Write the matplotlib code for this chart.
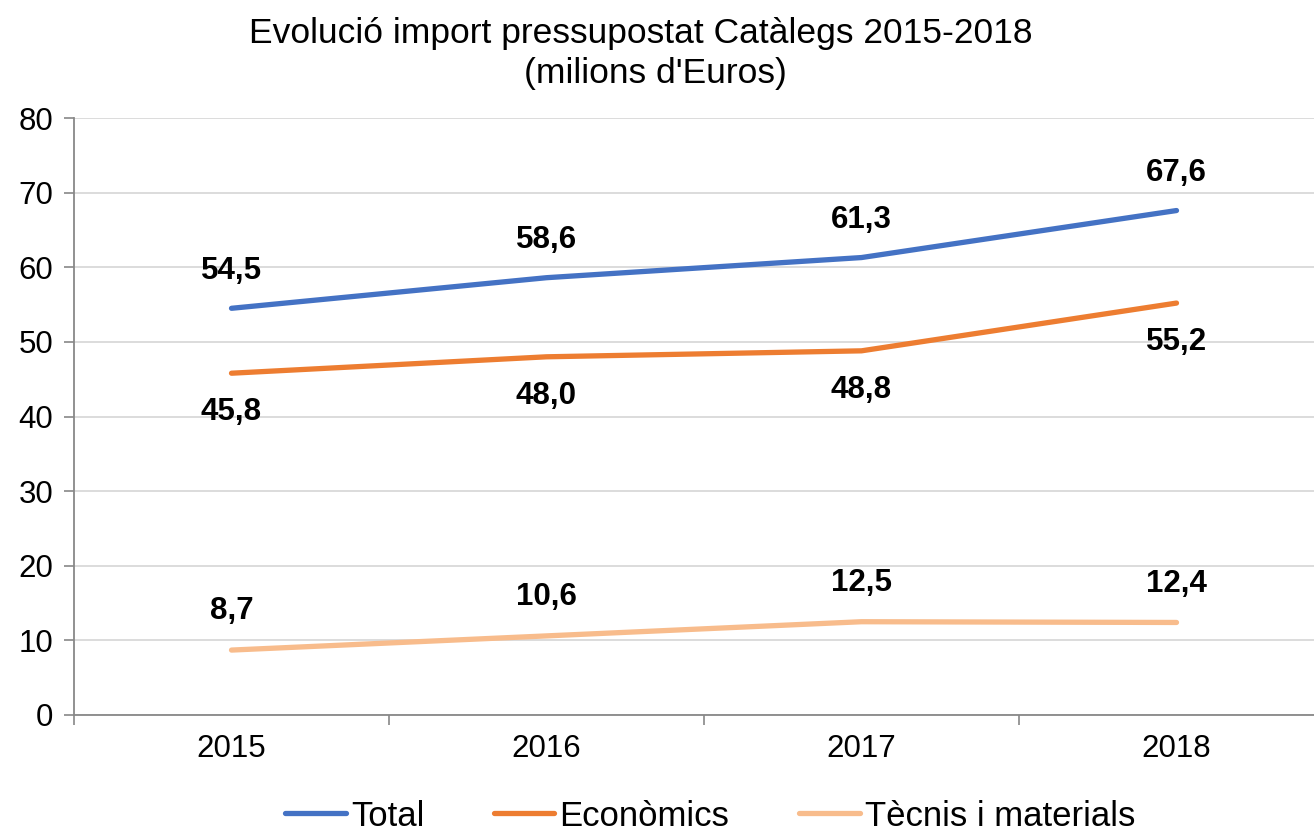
from matplotlib import pyplot as plt
import numpy as np

plt.rcParams['font.family'] = ['Liberation Sans', 'DejaVu Sans']

years = ['2015', '2016', '2017', '2018']
total = [54.5, 58.6, 61.3, 67.6]
economics = [45.8, 48.0, 48.8, 55.2]
tecnics = [8.7, 10.6, 12.5, 12.4]

series_names = ['Total', 'Econòmics', 'Tècnis i materials']
colors = ['#4472C4', '#ED7D31', '#F8BC8C']
offsets = [27, -28, 28]


def fmt(v):
    return f"{v:.1f}".replace('.', ',')


fig = plt.figure(figsize=(13.14, 8.34), dpi=100)
ax = fig.add_axes([74 / 1314, 119 / 834, 1260 / 1314, 597 / 834])

x = np.arange(len(years))
for vals, name, c, off in zip([total, economics, tecnics], series_names, colors, offsets):
    ax.plot(x, vals, color=c, linewidth=3.8, label=name, solid_capstyle='round')
    for xi, v in zip(x, vals):
        ax.annotate(fmt(v), (xi, v), xytext=(0, off), textcoords='offset points',
                    ha='center', va='center', fontsize=22.5, fontweight='bold', color='black')

ax.set_xlim(-0.5, 3.5)
ax.set_ylim(0, 80)
ax.set_yticks(range(0, 81, 10))
ax.set_xticks(x)
ax.set_xticklabels(years)
ax.set_xticks(np.arange(-0.5, 3.6, 1), minor=True)
ax.tick_params(axis='x', which='major', length=0, pad=14, labelsize=22.5)
ax.tick_params(axis='x', which='minor', length=7, color='#888888', width=1.2)
ax.tick_params(axis='y', length=7, color='#888888', width=1.2, pad=8, labelsize=22.5)
ax.grid(axis='y', color='#D9D9D9', linewidth=1.3)
ax.set_axisbelow(True)
for s in ['top', 'right']:
    ax.spines[s].set_visible(False)
for s in ['left', 'bottom']:
    ax.spines[s].set_color('#888888')
    ax.spines[s].set_linewidth(1.3)

fig.text(641 / 1314, 1 - 33 / 834, "Evolució import pressupostat Catàlegs 2015-2018", ha='center', va='center', fontsize=25.5)
fig.text(655 / 1314, 1 - 73 / 834, "(milions d'Euros)", ha='center', va='center', fontsize=25.5)

fig.legend(loc='center', bbox_to_anchor=(710 / 1314, 1 - 816 / 834), ncol=3, frameon=False,
           fontsize=25, handlelength=1.75, columnspacing=2.0, handletextpad=0.15)

fig.savefig('out.png', dpi=100)
